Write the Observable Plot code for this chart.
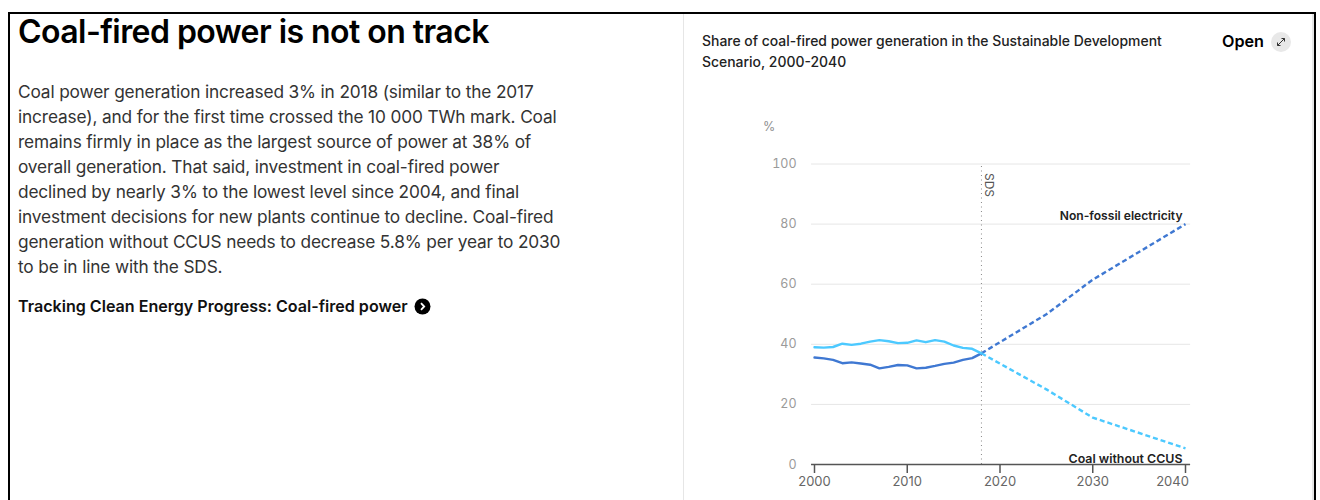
<!DOCTYPE html>
<html>
<head>
<meta charset="utf-8">
<script src="https://cdn.jsdelivr.net/npm/d3@7"></script>
<script src="https://cdn.jsdelivr.net/npm/@observablehq/plot@0.6"></script>
<style>
  html, body { margin: 0; padding: 0; background: #fff; }
  body { width: 1320px; height: 500px; overflow: hidden; position: relative; font-family: Inter, sans-serif; color: #000; }
  .abs { position: absolute; }
  #frame { left: 8px; top: 12px; width: 1308px; height: 500px; border: 2px solid #000; box-sizing: border-box; }
  #card { left: 683px; top: 14px; width: 631px; height: 500px; border: 1px solid #e6e6e6; border-width: 0 2px 0 1px; box-sizing: border-box; }
  h1 { left: 18px; top: 12px; margin: 0; font-size: 32px; line-height: 40px; font-weight: 600; letter-spacing: -0.55px; white-space: nowrap; }
  #body { left: 18px; top: 79px; margin: 0; font-size: 17.3px; line-height: 25px; color: #333; font-weight: 400; white-space: pre; letter-spacing: -0.15px; }
  #link { left: 18px; top: 296px; font-size: 16.08px; line-height: 20px; font-weight: 600; white-space: nowrap; color: #111; }
  #subtitle { left: 702px; top: 30px; font-size: 13.95px; line-height: 21px; font-weight: 500; color: #222; white-space: pre; }
  #open { left: 1222px; top: 31px; font-size: 16.2px; line-height: 21px; font-weight: 600; }
  #unit { left: 763px; top: 120px; font-size: 12.5px; line-height: 14px; color: #8f8f8f; }
  #chart { left: 699.5px; top: 110px; }
</style>
</head>
<body>
<div id="frame" class="abs"></div>
<div id="card" class="abs"></div>
<h1 class="abs">Coal-fired power is not on track</h1>
<p id="body" class="abs">Coal power generation increased 3% in 2018 (similar to the 2017
increase), and for the first time crossed the 10 000 TWh mark. Coal
remains firmly in place as the largest source of power at 38% of
overall generation. That said, investment in coal-fired power
declined by nearly 3% to the lowest level since 2004, and final
investment decisions for new plants continue to decline. Coal-fired
generation without CCUS needs to decrease 5.8% per year to 2030
to be in line with the SDS.</p>
<div id="link" class="abs">Tracking Clean Energy Progress: Coal-fired power</div>
<svg class="abs" style="left:414px;top:298px" width="17" height="17" viewBox="0 0 17 17">
  <circle cx="8.5" cy="8.5" r="8" fill="#000"/>
  <path d="M7 5.2 L10.2 8.5 L7 11.8" fill="none" stroke="#fff" stroke-width="1.8"/>
</svg>
<div id="subtitle" class="abs">Share of coal-fired power generation in the Sustainable Development
Scenario, 2000-2040</div>
<div id="open" class="abs">Open</div>
<svg class="abs" style="left:1271px;top:32px" width="20" height="20" viewBox="0 0 20 20">
  <circle cx="10" cy="10" r="10" fill="#e8e8e8"/>
  <path d="M6.5 13.5 L13.5 6.5 M10.5 6.5 H13.5 V9.5 M6.5 10.5 V13.5 H9.5" fill="none" stroke="#333" stroke-width="1"/>
</svg>
<div id="unit" class="abs">%</div>
<div id="chart" class="abs"></div>
<script>
// Historical shares, 2000-2018 (%)
const historyYears = [2000, 2001, 2002, 2003, 2004, 2005, 2006, 2007, 2008, 2009, 2010, 2011, 2012, 2013, 2014, 2015, 2016, 2017, 2018];
const coalHistory = [39, 38.9, 39.1, 40.2, 39.8, 40.2, 40.9, 41.4, 41, 40.4, 40.5, 41.3, 40.7, 41.4, 40.9, 39.6, 38.8, 38.5, 37];
const nonFossilHistory = [35.6, 35.3, 34.8, 33.7, 34, 33.6, 33.2, 32, 32.5, 33.1, 33, 32, 32.2, 32.8, 33.5, 33.9, 34.8, 35.4, 37];

// Sustainable Development Scenario path, 2018-2040 (%)
const scenarioYears = [2018, 2025, 2030, 2040];
const coalScenario = [37, 25, 15.6, 5.4];
const nonFossilScenario = [37, 50, 61.5, 80];

const yTicks = [0, 20, 40, 60, 80, 100];
const xTicks = [2000, 2010, 2020, 2030];
const lastTick = 2040;
const sdsYear = 2018;
const gridSpan = [1999.68, 2040.55];

const darkBlue = "#3f78d2";
const lightBlue = "#4cc9ff";
const rows = (years, values) => years.map((year, i) => ({year, value: values[i]}));
const historyLine = (values, stroke) =>
  Plot.line(rows(historyYears, values), {x: "year", y: "value", stroke, strokeWidth: 2.4});
// Butt caps keep the gaps open; the default round caps would close them
const scenarioLine = (values, stroke) =>
  Plot.line(rows(scenarioYears, values), {x: "year", y: "value", stroke, strokeWidth: 2.4, strokeDasharray: "5,3", strokeLinecap: "butt"});

const chart = Plot.plot({
  width: 600,
  height: 390,
  marginLeft: 114,
  marginRight: 115,
  marginTop: 53.5,
  marginBottom: 36,
  style: {fontFamily: "Inter, sans-serif", background: "transparent", overflow: "visible"},
  x: {type: "linear", domain: [2000, 2040]},
  y: {type: "linear", domain: [0, 100]},
  marks: [
    // Gridlines, skipping the baseline, which the axis rule draws
    Plot.ruleY(yTicks.filter(d => d > 0), {y: d => d, x1: gridSpan[0], x2: gridSpan[1], stroke: "#e6e6e6", strokeWidth: 1}),
    Plot.axisY(yTicks, {anchor: "left", tickSize: 0, tickPadding: 18, label: null, fontSize: 12.5, fill: "#9a9a9a"}),
    Plot.ruleX([sdsYear], {x: d => d, y1: 0, y2: 100, stroke: "#888", strokeWidth: 1, strokeDasharray: "1,3.5"}),
    Plot.text(["SDS"], {x: sdsYear, y: 100, text: d => d, rotate: 90, dx: 7, dy: 21, fontSize: 12, fill: "#555"}),
    scenarioLine(nonFossilScenario, darkBlue),
    scenarioLine(coalScenario, lightBlue),
    historyLine(nonFossilHistory, darkBlue),
    historyLine(coalHistory, lightBlue),
    // Bottom axis: rule, ticks and year labels; the last label is pulled inward
    Plot.ruleY([0], {y: d => d, x1: gridSpan[0], x2: gridSpan[1], stroke: "#555", strokeWidth: 1.5}),
    Plot.axisX([...xTicks, lastTick], {anchor: "bottom", tickSize: 9, stroke: "#555", strokeWidth: 1.5, tickFormat: () => "", label: null}),
    Plot.text(xTicks, {x: d => d, frameAnchor: "bottom", dy: 21, lineAnchor: "bottom", text: d => String(d), fontSize: 13, fill: "#666"}),
    Plot.text([lastTick], {x: d => d, frameAnchor: "bottom", dy: 21, lineAnchor: "bottom", dx: -13, text: d => String(d), fontSize: 13, fill: "#666"}),
    // Direct series labels
    Plot.text(["Non-fossil electricity"], {x: lastTick, y: 80, text: d => d, textAnchor: "end", dx: -3, dy: -8, fontSize: 12.1, fontWeight: 600, fill: "#222"}),
    Plot.text(["Coal without CCUS"], {x: lastTick, y: 0, text: d => d, textAnchor: "end", dx: -3, dy: -5, fontSize: 12.4, fontWeight: 600, fill: "#222"})
  ]
});
document.getElementById("chart").appendChild(chart);
</script>
</body>
</html>
